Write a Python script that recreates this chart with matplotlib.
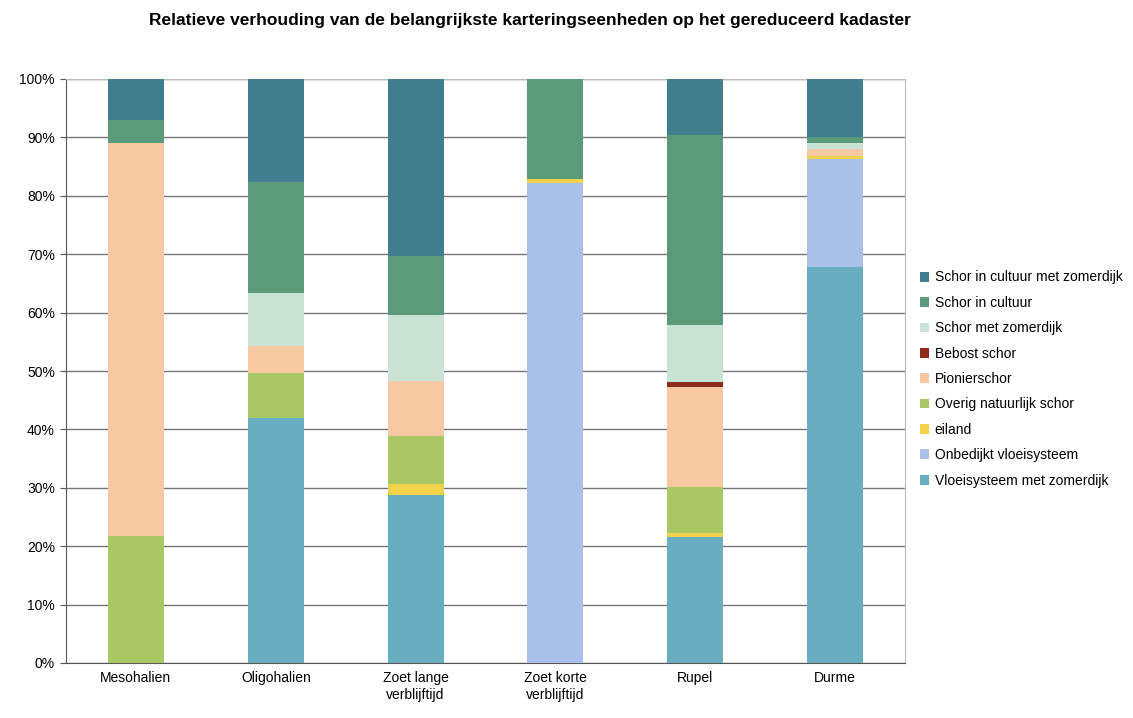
import matplotlib
matplotlib.use("Agg")
import matplotlib.pyplot as plt
import numpy as np

plt.rcParams['font.family'] = ['Liberation Sans', 'DejaVu Sans']

categories = ["Mesohalien", "Oligohalien", "Zoet lange\nverblijftijd", "Zoet korte\nverblijftijd", "Rupel", "Durme"]

series_names = ["Vloeisysteem met zomerdijk", "Onbedijkt vloeisysteem", "eiland",
                "Overig natuurlijk schor", "Pionierschor", "Bebost schor",
                "Schor met zomerdijk", "Schor in cultuur", "Schor in cultuur met zomerdijk"]

vloeisysteem_zomerdijk = [0.0, 42.0, 28.8, 0.0, 21.6, 67.8]
onbedijkt_vloeisysteem = [0.0, 0.0, 0.0, 82.2, 0.0, 18.5]
eiland = [0.0, 0.0, 1.8, 0.6, 0.7, 0.5]
overig_natuurlijk = [21.8, 7.7, 8.3, 0.0, 7.8, 0.0]
pionierschor = [67.2, 4.6, 9.4, 0.0, 17.2, 1.2]
bebost_schor = [0.0, 0.0, 0.0, 0.0, 0.8, 0.0]
schor_met_zomerdijk = [0.0, 9.1, 11.3, 0.0, 9.8, 1.0]
schor_in_cultuur = [4.0, 19.0, 10.1, 17.2, 32.5, 1.0]
schor_cultuur_zomerdijk = [7.0, 17.6, 30.3, 0.0, 9.6, 10.0]

values = [vloeisysteem_zomerdijk, onbedijkt_vloeisysteem, eiland, overig_natuurlijk,
          pionierschor, bebost_schor, schor_met_zomerdijk, schor_in_cultuur,
          schor_cultuur_zomerdijk]
colors = ["#69AEC0", "#A9C1EA", "#F2D24A", "#A9C865", "#F6C9A2", "#8E2B1B",
          "#C9E3D4", "#5B9B7B", "#427F8E"]

fig = plt.figure(figsize=(11.33, 7.18), dpi=100)
ax = fig.add_axes([66/1133, 1-663/718, (905-66)/1133, (663-79)/718])

x = np.arange(len(categories))
bottom = np.zeros(len(categories))
handles = []
for name, vals, c in zip(series_names, values, colors):
    v = np.array(vals)
    h = ax.bar(x, v, 0.4, bottom=bottom, color=c, label=name, zorder=3)
    handles.append(h)
    bottom += v

ax.set_xlim(-0.5, len(categories) - 0.5)
ax.set_ylim(0, 100)
ax.set_yticks(np.arange(0, 101, 10))
ax.set_yticklabels([f"{t}%" for t in range(0, 101, 10)], fontsize=10)
ax.set_xticks(x)
ax.set_xticklabels(categories, fontsize=10)
ax.tick_params(axis='x', length=0, pad=6)
ax.tick_params(axis='y', length=4, direction='out', color='#555555', pad=4)
ax.yaxis.grid(True, color='#777777', linewidth=1, zorder=0)
for s in ['top', 'right']:
    ax.spines[s].set_color('#BBBBBB')
ax.spines['left'].set_color('#555555')
ax.spines['bottom'].set_color('#555555')

leg = fig.legend(handles[::-1], series_names[::-1], loc='upper left',
                 bbox_to_anchor=(907/1133, 1-258/718), frameon=False,
                 fontsize=10, handlelength=0.7, handleheight=0.7,
                 handletextpad=0.4, labelspacing=0.82)

fig.text(530/1133, 1-20/718, "Relatieve verhouding van de belangrijkste karteringseenheden op het gereduceerd kadaster",
         ha='center', va='center', fontsize=12.5, fontweight='bold')

fig.savefig("out.png", dpi=100)
